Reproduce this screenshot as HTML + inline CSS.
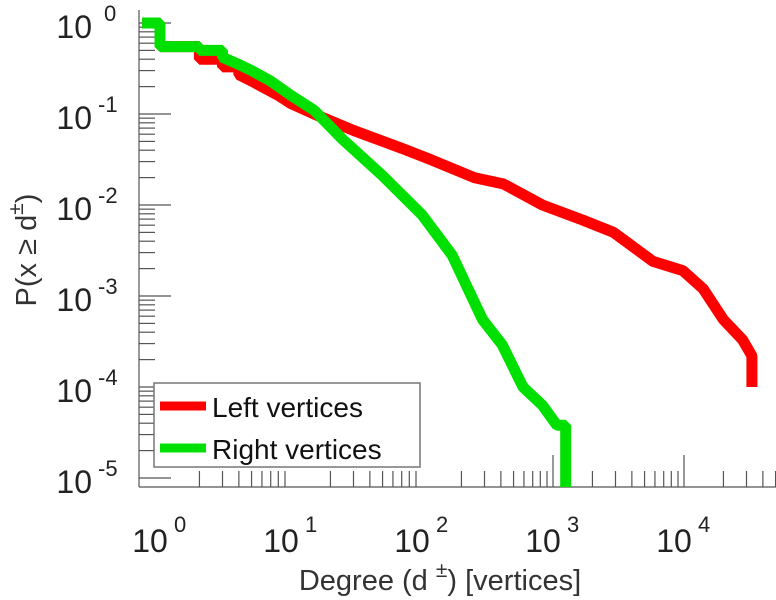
<!DOCTYPE html>
<html><head><meta charset="utf-8"><style>
body{margin:0;background:#fff;}
svg{display:block;font-family:"Liberation Sans",sans-serif;}
</style></head><body>
<svg id="chart" width="776" height="600" viewBox="0 0 776 600" style="position:absolute;left:0;top:0"></svg>
<script>
const leftDeg=[0.73,1,1,2,2,3,3,4,4,5,6,8,10,15,30,70,120,250,420,830,1700,2900,5800,9800,14000,20000,28000,33000,33000];
const leftP=[1,1,0.55,0.55,0.4,0.4,0.33,0.33,0.27,0.23,0.2,0.16,0.13,0.1,0.066,0.042,0.031,0.020,0.017,0.010,0.0068,0.005,0.0024,0.0019,0.0012,0.00055,0.00033,0.00022,0.0001];
const rightDeg=[0.73,1,1,2,2,3,3,4,5,7,10,15,25,50,100,170,290,410,590,830,1070,1250,1250];
const rightP=[1,1,0.55,0.55,0.5,0.5,0.42,0.35,0.3,0.23,0.16,0.11,0.052,0.021,0.0078,0.0028,0.00055,0.00029,0.0001,0.000063,0.000038,0.000038,0.000005];
const xTickExp=[0,1,2,3,4];
const yTickExp=[0,-1,-2,-3,-4,-5];
const NS="http://www.w3.org/2000/svg";
const svg=document.getElementById('chart');
const X0=160,DX=131,Y0=23,DY=91,AXL=139,AXB=487,AXR=776;
function xs(d){return X0+Math.log10(d)*DX;}
function ys(p){return Y0-Math.log10(p)*DY;}
function mk(t,a,parent){const e=document.createElementNS(NS,t);for(const k in a)e.setAttribute(k,a[k]);(parent||svg).appendChild(e);return e;}
const defs=mk('defs',{});const cp=mk('clipPath',{id:'pc'},defs);mk('rect',{x:AXL,y:0,width:AXR-AXL,height:AXB},cp);
const tg=mk('g',{stroke:'#555','stroke-width':1.2});

mk('line',{x1:AXL,y1:AXB,x2:AXR,y2:AXB},tg);
mk('line',{x1:AXL,y1:10,x2:AXL,y2:AXB},tg);
yTickExp.forEach(e=>{const y=ys(Math.pow(10,e));mk('line',{x1:AXL,y1:y,x2:AXL+32,y2:y},tg);
 if(e>-5)for(let m=2;m<10;m++){const yy=ys(Math.pow(10,e-1)*m);mk('line',{x1:AXL,y1:yy,x2:AXL+16,y2:yy},tg);}
 const t=mk('text',{x:92,y:y+15,'font-size':32,fill:'#222','text-anchor':'end',stroke:'none'});t.textContent='10';
 
 const s=mk('text',{x:e<0?98:104,y:y-2,'font-size':22,fill:'#222',stroke:'none'});s.textContent=String(e);
});
xTickExp.forEach(e=>{const x=xs(Math.pow(10,e));
 for(let m=2;m<10;m++){const xx=xs(Math.pow(10,e)*m);if(xx<AXR)mk('line',{x1:xx,y1:AXB,x2:xx,y2:AXB-16},tg);}
 if(e>=3)mk('line',{x1:x,y1:AXB,x2:x,y2:AXB-32},tg);
 const t=mk('text',{x:x-10,y:552,'font-size':32,fill:'#222','text-anchor':'middle',stroke:'none'});t.textContent='10';
 
 const s=mk('text',{x:x+14,y:532,'font-size':22,fill:'#222',stroke:'none'});s.textContent=String(e);
});
function linePath(D,P){return D.map((d,i)=>(i?'L':'M')+xs(d)+','+Math.min(ys(P[i]),AXB+20)).join('');}
const gL=mk('path',{d:linePath(leftDeg,leftP),fill:'none',stroke:'#ff0000','stroke-width':11,'stroke-linejoin':'bevel','clip-path':'url(#pc)'});

const gR=mk('path',{d:linePath(rightDeg,rightP),fill:'none',stroke:'#00e000','stroke-width':11,'stroke-linejoin':'bevel','clip-path':'url(#pc)'});

</script>
<svg style="position:absolute;left:0;top:0" width="776" height="600">
<g font-family="Liberation Sans, sans-serif">
<rect x="154" y="383" width="266" height="84" fill="#fff" stroke="#777" stroke-width="1.5"/>
<line x1="160" y1="406" x2="206" y2="406" stroke="#ff0000" stroke-width="9"/>
<text x="212" y="417" font-size="28" fill="#111">Left vertices</text>
<line x1="160" y1="448" x2="206" y2="448" stroke="#00e000" stroke-width="9"/>
<text x="212" y="459" font-size="28" fill="#111">Right vertices</text>
</g>
<text x="440" y="590" font-size="29" fill="#333" text-anchor="middle" font-family="Liberation Sans, sans-serif">Degree (d <tspan font-size="21" dy="-13">±</tspan><tspan dy="13">) [vertices]</tspan></text>
<text transform="translate(36,250) rotate(-90)" font-size="29" fill="#333" text-anchor="middle" font-family="Liberation Sans, sans-serif">P(x ≥ d<tspan font-size="21" dy="-13">±</tspan><tspan dy="13">)</tspan></text>
</svg>
</body></html>
